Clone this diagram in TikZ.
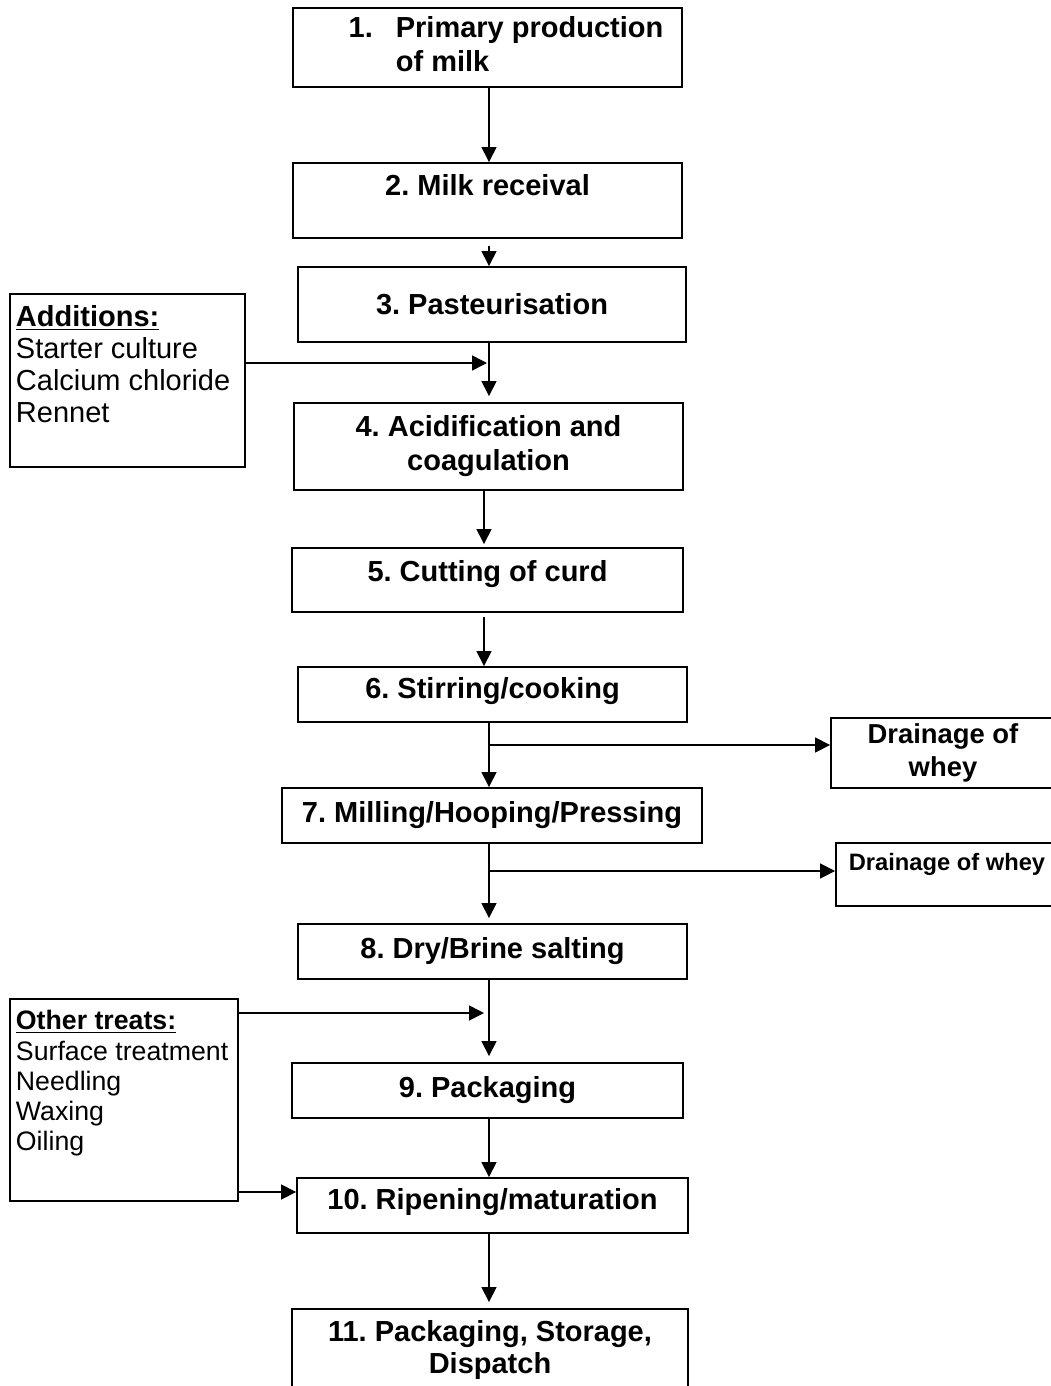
\documentclass[tikz,border=0pt]{standalone}
\usepackage{fontspec}
\setmainfont{Liberation Sans}
\usetikzlibrary{arrows.meta}
\frenchspacing

\tikzset{
  stepbox/.style={draw, line width=1.1pt, align=center, inner sep=2pt,
    font=\bfseries\fontsize{16.5}{19.3}\selectfont},
  notebox/.style={draw, line width=1.1pt, anchor=north west,
    inner xsep=0.12cm, inner ysep=0.23cm},
  flow/.style={-{Triangle[length=0.3cm,width=0.3cm]}, line width=0.9pt}
}

\begin{document}
\begin{tikzpicture}[x=0.02cm, y=-0.02cm]
    \useasboundingbox (0,0) rectangle (1051,1386);
    \clip (0,0) rectangle (1051,1386);

    % Fasi del processo
    \node[stepbox, minimum width=7.78cm, minimum height=1.58cm] (b1) at (487.5,47.5)
        {\begin{tabular}{@{\hspace{0.74cm}}l@{\hspace{0.46cm}}l@{}}1. & Primary production\\ & of milk\end{tabular}};
    \node[stepbox, minimum width=7.78cm, minimum height=1.5cm, text depth=0.62cm] (b2) at (487.5,200.5) {2. Milk receival};
    \node[stepbox, minimum width=7.76cm, minimum height=1.5cm] (b3) at (492,304.5) {3. Pasteurisation};
    \node[stepbox, minimum width=7.78cm, minimum height=1.74cm] (b4) at (488.5,446.5) {4. Acidification and\\ coagulation};
    \node[stepbox, minimum width=7.82cm, minimum height=1.28cm, text depth=0.36cm] (b5) at (487.5,580) {5. Cutting of curd};
    \node[stepbox, minimum width=7.78cm, minimum height=1.1cm, text depth=0.26cm] (b6) at (492.5,694.5) {6. Stirring/cooking};
    \node[stepbox, minimum width=8.4cm, minimum height=1.1cm] (b7) at (492,815.5) {7. Milling/Hooping/Pressing};
    \node[stepbox, minimum width=7.78cm, minimum height=1.1cm] (b8) at (492.5,951.5) {8. Dry/Brine salting};
    \node[stepbox, minimum width=7.82cm, minimum height=1.1cm] (b9) at (487.5,1090.5) {9. Packaging};
    \node[stepbox, minimum width=7.82cm, minimum height=1.1cm, text depth=0.26cm] (b10) at (492.5,1205.5) {10. Ripening/maturation};
    \node[stepbox, minimum width=7.92cm, minimum height=1.64cm, font=\bfseries\fontsize{16.5}{18.2}\selectfont] (b11) at (490,1350) {11. Packaging, Storage,\\ Dispatch};

    % Siero
    \node[stepbox, minimum width=4.48cm, minimum height=1.4cm, font=\bfseries\fontsize{15.6}{18.8}\selectfont] (d1) at (943,753) {Drainage of\\ whey};
    \node[stepbox, minimum width=4.44cm, minimum height=1.26cm, text depth=0.5cm, font=\bfseries\fontsize{13.5}{16}\selectfont] (d2) at (947,874.5) {Drainage of whey};

    % Aggiunte e trattamenti
    \node[notebox, font=\fontsize{16.5}{18.3}\selectfont] (add) at (9,293) {
        \begin{minipage}[c][3.0cm][t]{4.46cm}
            \raggedright
            \underline{\textbf{Additions:}}\\
            Starter culture\\
            Calcium chloride\\
            Rennet
        \end{minipage}
    };
    \node[notebox, font=\fontsize{15.2}{17.2}\selectfont] (oth) at (9,998) {
        \begin{minipage}[c][3.58cm][t]{4.32cm}
            \raggedright
            \underline{\textbf{Other treats:}}\\
            Surface treatment\\
            Needling\\
            Waxing\\
            Oiling
        \end{minipage}
    };

    % Punti di innesto
    \coordinate (spine) at (489,0);
    \coordinate (spinec) at (484,0);
    \coordinate (addin) at (487,363);
    \coordinate (whey1) at (489,745);
    \coordinate (whey2) at (489,871);
    \coordinate (treatin) at (484,1013);
    \coordinate (ripin) at (297,1192);

    % Collegamenti
    \draw[flow] (b1.south -| spine) -- (b2.north -| spine);
    \draw[flow, shorten <=0.14cm] (b2.south -| spine) -- (b3.north -| spine);
    \draw[flow, shorten >=0.12cm] (b3.south -| spine) -- (b4.north -| spine);
    \draw[flow, shorten >=0.06cm] (b4.south -| spinec) -- (b5.north -| spinec);
    \draw[flow, shorten <=0.08cm] (b5.south -| spinec) -- (b6.north -| spinec);
    \draw[flow] (b6.south -| spine) -- (b7.north -| spine);
    \draw[flow, shorten >=0.1cm] (b7.south -| spine) -- (b8.north -| spine);
    \draw[flow, shorten >=0.12cm] (b8.south -| spine) -- (b9.north -| spine);
    \draw[flow] (b9.south -| spine) -- (b10.north -| spine);
    \draw[flow, shorten >=0.12cm] (b10.south -| spine) -- (b11.north -| spine);

    \draw[flow] (whey1) -- (whey1 -| d1.west);
    \draw[flow] (whey2) -- (whey2 -| d2.west);
    \draw[flow] (add.east |- addin) -- (addin);
    \draw[flow] (oth.east |- treatin) -- (treatin);
    \draw[flow] (oth.east |- ripin) -- (ripin -| b10.west);
\end{tikzpicture}
\end{document}
